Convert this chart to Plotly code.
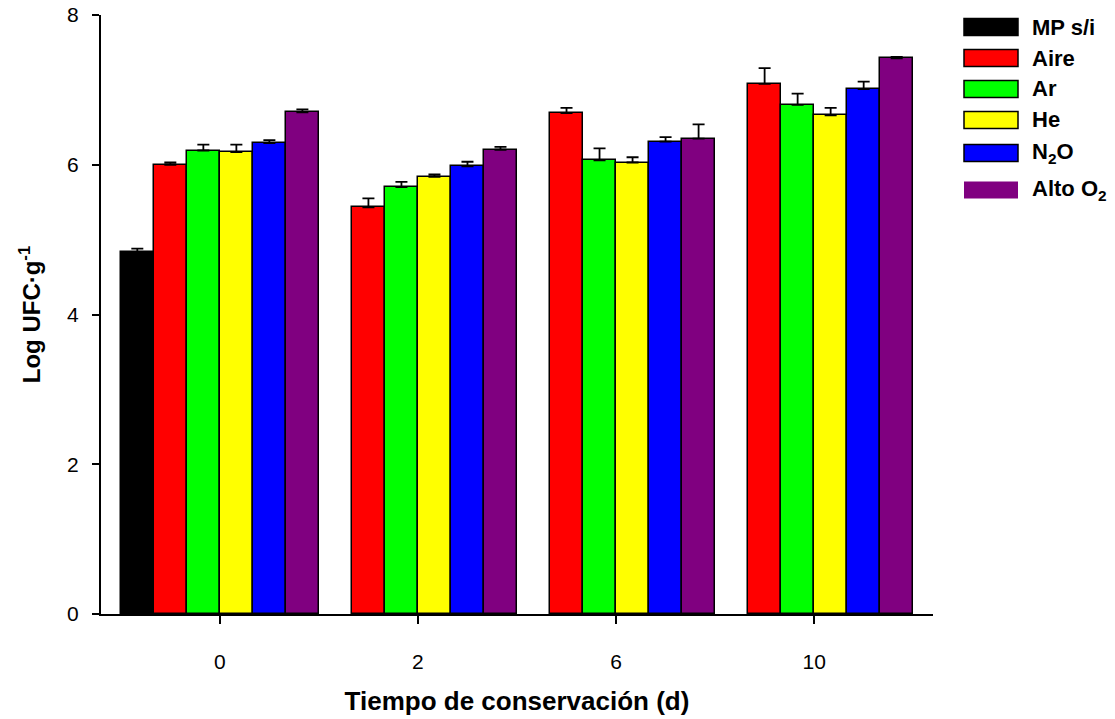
import plotly.graph_objects as go

# Storage time (days) and treatments
days = ["0", "2", "6", "10"]
treatments = ["MP s/i", "Aire", "Ar", "He", "N<sub>2</sub>O", "Alto O<sub>2</sub>"]
colors = ["#000000", "#FF0000", "#00FF00", "#FFFF00", "#0000FF", "#800080"]

# Mean Log CFU/g per treatment and day
mp_si = [4.83, None, None, None]
aire = [6.00, 5.43, 6.69, 7.08]
ar = [6.19, 5.70, 6.06, 6.80]
he = [6.17, 5.84, 6.03, 6.66]
n2o = [6.29, 5.98, 6.31, 7.01]
alto_o2 = [6.70, 6.20, 6.35, 7.42]

# Standard errors (upper bars)
mp_si_err = [0.05, 0, 0, 0]
aire_err = [0.03, 0.12, 0.07, 0.21]
ar_err = [0.08, 0.07, 0.16, 0.15]
he_err = [0.10, 0.03, 0.07, 0.10]
n2o_err = [0.04, 0.06, 0.06, 0.10]
alto_o2_err = [0.04, 0.04, 0.19, 0.02]

values = [mp_si, aire, ar, he, n2o, alto_o2]
errors = [mp_si_err, aire_err, ar_err, he_err, n2o_err, alto_o2_err]

W, H = 1115, 719
L, R, T, B = 101, 182, 15, 105
FONT = "Arial, Liberation Sans, sans-serif"


def px_x(px):
    return (px - L) / (W - L - R)


def px_y(py):
    return (H - B - py) / (H - T - B)


fig = go.Figure()
for name, col, vals, errs in zip(treatments, colors, values, errors):
    fig.add_trace(go.Bar(
        x=days, y=vals, name=name,
        marker=dict(color=col, line=dict(color="black", width=1.5)),
        error_y=dict(type="data", symmetric=False, array=errs,
                     arrayminus=[0] * len(errs), color="black",
                     thickness=1.8, width=6),
        showlegend=False,
    ))

# Legend drawn as boxes with labels to the right of the plot
row_y = [27, 58, 89, 120, 153, 190]
shapes = []
annotations = []
for i, (name, col) in enumerate(zip(treatments, colors)):
    cy = row_y[i]
    shapes.append(dict(
        type="rect", xref="paper", yref="paper",
        x0=px_x(964), x1=px_x(1018), y0=px_y(cy + 8.5), y1=px_y(cy - 8.5),
        fillcolor=col,
        line=dict(color="black", width=1.5 if i < 5 else 0),
    ))
    annotations.append(dict(
        xref="paper", yref="paper", x=px_x(1030), y=px_y(cy),
        text="<b>" + name + "</b>", showarrow=False,
        xanchor="left", yanchor="middle",
        font=dict(family=FONT, size=22, color="black"),
    ))

fig.update_layout(
    width=W, height=H,
    margin=dict(l=L, r=R, t=T, b=B, autoexpand=False),
    paper_bgcolor="white", plot_bgcolor="white",
    barmode="group", bargap=0, bargroupgap=0,
    font=dict(family=FONT, size=21, color="black"),
    shapes=shapes, annotations=annotations,
    xaxis=dict(
        type="category", range=[-0.6, 3.6],
        showline=True, linecolor="black", linewidth=2,
        ticks="outside", ticklen=8, tickwidth=1.5, tickcolor="black",
        ticklabelstandoff=20, showgrid=False, zeroline=False,
        title=dict(text="<b>Tiempo de conservación (d)</b>",
                   font=dict(family=FONT, size=26), standoff=20),
        automargin=False,
    ),
    yaxis=dict(
        range=[0, 8], tickvals=[0, 2, 4, 6, 8],
        showline=True, linecolor="black", linewidth=2,
        ticks="outside", ticklen=7, tickwidth=1.5, tickcolor="black",
        ticklabelstandoff=9, showgrid=False, zeroline=False,
        title=dict(text="<b>Log UFC·g<sup>-1</sup></b>",
                   font=dict(family=FONT, size=24), standoff=20),
        automargin=False,
    ),
)

fig.write_html("out.html")
